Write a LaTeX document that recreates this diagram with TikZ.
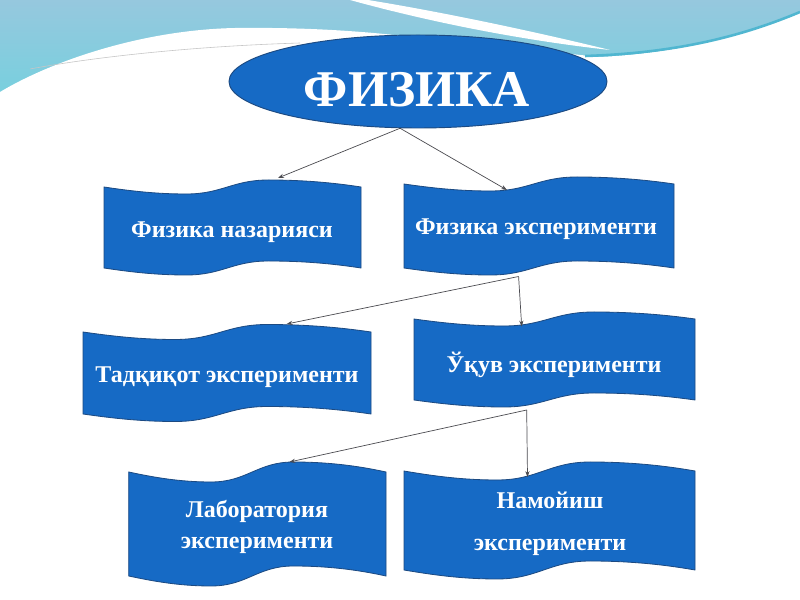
\documentclass[tikz,border=0pt]{standalone}
\usepackage{fontspec}
\setmainfont{Liberation Serif}
\usetikzlibrary{arrows.meta,shapes.geometric}
\definecolor{boxblue}{RGB}{22,106,197}
\definecolor{boxedge}{RGB}{28,74,130}
\definecolor{tealtop}{RGB}{150,200,222}
\definecolor{tealbot}{RGB}{118,208,222}
\definecolor{tealedge}{RGB}{80,182,208}
\definecolor{linkgray}{RGB}{75,75,80}
\newcommand\wavebanner[5]{% L R T B A
  \pgfmathsetmacro\wW{#2-#1}%
  \filldraw[bannerstyle] (#1,#3)
    .. controls ({#1+0.10*\wW},{#3+0.55*#5}) and ({#1+0.20*\wW},{#3+#5}) .. ({#1+0.32*\wW},{#3+#5})
    .. controls ({#1+0.46*\wW},{#3+#5}) and ({#1+0.50*\wW},{#3-#5}) .. ({#1+0.64*\wW},{#3-#5})
    .. controls ({#1+0.80*\wW},{#3-#5}) and ({#1+0.92*\wW},{#3-0.45*#5}) .. (#2,#3)
    -- (#2,#4)
    .. controls ({#1+0.92*\wW},{#4-0.45*#5}) and ({#1+0.80*\wW},{#4-#5}) .. ({#1+0.64*\wW},{#4-#5})
    .. controls ({#1+0.50*\wW},{#4-#5}) and ({#1+0.46*\wW},{#4+#5}) .. ({#1+0.32*\wW},{#4+#5})
    .. controls ({#1+0.20*\wW},{#4+#5}) and ({#1+0.10*\wW},{#4+0.55*#5}) .. (#1,#4)
    -- cycle;}
\begin{document}
\begin{tikzpicture}[x=0.03cm,y=-0.03cm,
  bannerstyle/.style={fill=boxblue,draw=boxedge,line width=0.7pt},
  lbl/.style={text=white,font=\fontsize{20.5}{24}\selectfont\bfseries,inner sep=0pt},
  link/.style={draw=linkgray,line width=0.6pt,-{Stealth[length=5pt,width=3.6pt]}}]
\useasboundingbox (0,0) rectangle (800,600);
% background
\fill[white] (0,0) rectangle (800,600);
\shade[top color=tealtop,bottom color=tealbot] (0,0) rectangle (800,100);
\fill[white] (0,92) .. controls (50,62) and (140,30) .. (235,28)
  .. controls (320,27) and (380,33) .. (420,38)
  .. controls (480,44) and (550,52) .. (600,57)
  .. controls (680,53) and (745,35) .. (800,12) -- (800,600) -- (0,600) -- cycle;
\draw[tealedge,line width=2.2pt] (585,56) .. controls (680,53) and (745,35) .. (800,12);
\fill[white] (350,0) -- (368,0) .. controls (430,10) and (520,28) .. (610,50)
  .. controls (520,40) and (430,22) .. (350,0) -- cycle;
\draw[gray!45,line width=0.5pt] (30,69) .. controls (100,56) and (200,46) .. (300,43);
% title
\node[ellipse,fill=boxblue,draw=boxedge,line width=0.8pt,minimum width=11.34cm,minimum height=2.79cm,inner sep=0pt] (fiz) at (418,81.5) {};
\node[text=white,font=\fontsize{44}{48}\selectfont\bfseries,anchor=base,inner sep=0pt] (fiztext) at (417,106.7) {ФИЗИКА};
% banners
\wavebanner{104}{361}{187}{268}{7}
\wavebanner{404}{674}{184}{268}{7}
\wavebanner{83}{371}{332}{414}{7.5}
\wavebanner{414}{695}{319}{400}{7}
\wavebanner{128.7}{386}{472}{576}{10}
\wavebanner{404}{695}{471}{570}{9}
% texts
\node[lbl] (b1) at (232,232) {Физика назарияси};
\node[lbl] (b2) at (536,229) {Физика эксперименти};
\node[lbl] (b3) at (227,377) {Тадқиқот эксперименти};
\node[lbl] (b4) at (554,365) {Ўқув эксперименти};
\node[lbl,align=center,font=\fontsize{20.5}{26}\selectfont\bfseries] (b5) at (257,527) {Лаборатория\\эксперименти};
\node[lbl,align=center,font=\fontsize{20.5}{36}\selectfont\bfseries] (b6) at (550,524) {Намойиш\\эксперименти};
% connection points
\coordinate (b1top) at (278,178);
\coordinate (b2top) at (507,190);
\coordinate (b2bot) at (518.6,276.5);
\coordinate (b3top) at (286.7,324);
\coordinate (b4top) at (521.7,326.5);
\coordinate (b4bot) at (526.7,410);
\coordinate (b5top) at (289.4,462);
\coordinate (b6top) at (527.5,477);
% connectors
\draw[link] (fiz.-111) -- (b1top);
\draw[link] (fiz.-111) -- (b2top);
\draw[link] (b2bot) -- (b3top);
\draw[link] (b2bot) -- (b4top);
\draw[link] (b4bot) -- (b5top);
\draw[link] (b4bot) -- (b6top);
\end{tikzpicture}
\end{document}
